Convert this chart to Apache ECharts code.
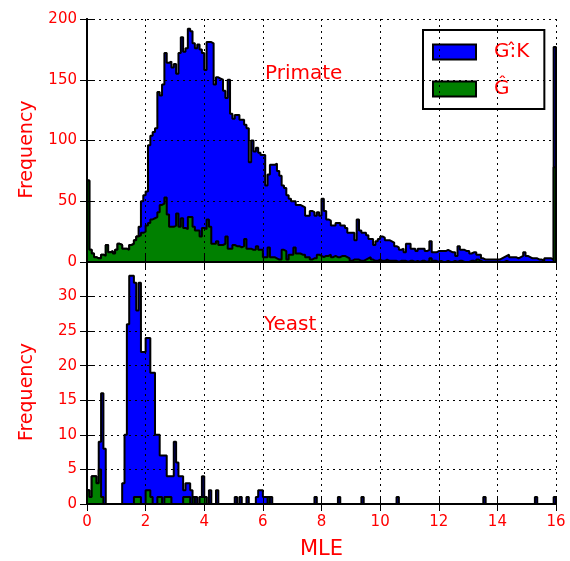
<!DOCTYPE html>
<html>
<head>
<meta charset="utf-8">
<script src="https://cdn.jsdelivr.net/npm/echarts@6/dist/echarts.min.js"></script>
<style>
html,body{margin:0;padding:0;background:#fff;}
#chart{width:570px;height:561px;}
</style>
</head>
<body>
<div id="chart"></div>
<script>
// Histogram bins: 200 bins over MLE range [0, 16]
const binCount = 200;
const xMin = 0, xMax = 16;
const xTicks = [0, 2, 4, 6, 8, 10, 12, 14, 16];

// Primate panel
const primateGK = [
  67,10,7,4,3,3,6,5,14,8,9,7,10,15,14,11,11,10,14,15,
  18,21,29,50,55,58,96,104,107,110,140,137,146,172,164,165,160,163,155,172,
  185,173,176,192,190,180,176,179,175,172,158,181,181,180,146,152,151,150,141,135,
  150,122,118,121,121,117,117,113,110,82,100,91,94,90,88,88,63,72,80,80,
  81,75,71,63,61,55,52,50,50,47,47,46,45,38,38,42,41,38,41,38,
  52,42,35,34,30,30,32,32,30,30,28,24,24,24,18,35,26,24,24,22,
  19,19,14,17,19,21,20,18,18,17,16,13,12,10,11,8,15,15,11,11,
  9,11,11,11,9,10,17,8,8,9,9,9,9,10,9,8,8,5,13,10,
  10,9,9,7,8,8,6,6,3,2,2,2,2,2,2,2,3,4,5,6,
  4,4,4,3,4,5,8,5,4,3,3,3,2,2,1,3,3,3,2,177
];
const primateG = [
  67,10,7,4,3,3,6,5,14,8,9,7,10,15,14,11,11,10,14,15,
  18,21,22,24,25,30,32,35,36,37,41,47,48,53,39,29,29,30,40,29,
  36,28,27,37,37,29,26,26,21,28,27,35,29,15,15,17,14,14,15,21,
  11,11,14,13,13,12,13,19,11,11,10,10,13,10,10,4,4,12,4,4,
  3,2,2,10,9,2,6,6,12,7,7,6,6,4,4,2,3,3,6,5,
  4,5,5,6,4,5,4,4,5,5,4,3,1,2,2,2,1,1,2,3,
  4,2,1,1,2,1,1,2,1,1,1,1,0,1,1,1,0,1,1,0,
  1,0,1,1,0,1,3,1,1,0,1,0,0,1,0,0,1,0,1,1,
  0,0,0,1,1,0,2,1,0,0,0,0,0,0,0,0,0,0,1,0,
  0,0,0,0,0,0,0,0,0,0,0,0,0,0,0,0,0,0,0,78
];

// Yeast panel
const yeastGK = [
  2,1,4,4,3,9,16,8,0,0,0,0,0,0,0,3,10,26,33,33,
  32,28,32,22,22,24,24,19,19,10,10,7,7,7,4,4,4,9,6,4,
  4,2,3,3,2,1,1,0,1,4,1,0,2,0,0,2,0,0,0,0,
  0,0,0,1,0,1,0,0,1,0,0,0,1,2,2,1,1,1,1,0,
  0,0,0,0,0,0,0,0,0,0,0,0,0,0,0,0,0,1,0,0,
  0,0,0,0,0,0,0,1,0,0,0,0,0,0,0,0,0,1,0,0,
  0,0,0,0,0,0,0,0,0,0,0,0,1,0,0,0,0,0,0,0,
  0,0,0,0,0,0,0,0,0,0,0,0,0,0,0,0,0,0,0,0,
  0,0,0,0,0,0,0,0,0,1,0,0,0,0,0,0,0,0,0,0,
  0,0,0,0,0,0,0,0,0,0,0,1,0,0,0,0,0,0,0,1
];
const yeastG = [
  2,1,4,4,3,5,1,0,0,0,0,0,0,0,0,0,0,0,0,0,
  1,1,1,0,0,2,2,1,0,0,1,1,0,1,1,1,0,0,0,0,
  0,1,1,1,0,1,0,0,1,1,1,0,0,0,0,0,0,0,0,0,
  0,0,0,0,0,0,0,0,0,0,0,0,0,0,0,0,0,1,0,0,
  0,0,0,0,0,0,0,0,0,0,0,0,0,0,0,0,0,0,0,0,
  0,0,0,0,0,0,0,0,0,0,0,0,0,0,0,0,0,0,0,0,
  0,0,0,0,0,0,0,0,0,0,0,0,0,0,0,0,0,0,0,0,
  0,0,0,0,0,0,0,0,0,0,0,0,0,0,0,0,0,0,0,0,
  0,0,0,0,0,0,0,0,0,0,0,0,0,0,0,0,0,0,0,0,
  0,0,0,0,0,0,0,0,0,0,0,0,0,0,0,0,0,0,0,0
];

const seriesNames = ['G:\u0302K', '\u011C'];
const panelTitles = ['Primate', 'Yeast'];
const primateYTicks = [0, 50, 100, 150, 200];
const yeastYTicks = [0, 5, 10, 15, 20, 25, 30];

const binW = (xMax - xMin) / binCount;
function stepData(vals) {
  const pts = [[xMin, 0]];
  for (let i = 0; i < vals.length; i++) pts.push([xMin + i * binW, vals[i]]);
  pts.push([xMax, vals[vals.length - 1]]);
  pts.push([xMax, 0]);
  return pts;
}

const FONT = 'DejaVu Sans';
const RED = '#ff0000';
const BLUE = '#0000ff';
const GREEN = '#008000';

function xAxisDef(grid, pos, labels, split) {
  return {
    type: 'value', gridIndex: grid, position: pos, min: xMin, max: xMax, interval: 2, z: 5,
    axisLine: {show: true, lineStyle: {color: '#000', width: 2}},
    axisTick: {show: true, inside: true, length: 7, lineStyle: {color: '#000', width: 1}},
    axisLabel: {show: labels, color: RED, fontSize: 15, fontFamily: FONT, margin: 11},
    splitLine: {show: split, lineStyle: {color: '#000', width: 1, type: [2, 4]}}
  };
}
function yAxisDef(grid, pos, max, interval, labels, split, ticks, name) {
  return {
    type: 'value', gridIndex: grid, position: pos, min: 0, max: max, interval: interval, z: 5,
    name: name, nameLocation: 'middle', nameGap: 50,
    nameTextStyle: {color: RED, fontSize: 19, fontFamily: FONT, padding: [0, 18, 0, 0]},
    axisLine: {show: true, lineStyle: {color: '#000', width: 2}},
    axisTick: {show: true, inside: true, length: 7, lineStyle: {color: '#000', width: 1}},
    axisLabel: {show: labels, color: RED, fontSize: 15, fontFamily: FONT, margin: 10,
      formatter: function (v) { return ticks.indexOf(v) >= 0 ? String(v) : ''; }},
    splitLine: {show: split, lineStyle: {color: '#000', width: 1, type: [2, 4]}}
  };
}
function histSeries(name, vals, color, xi, yi, z) {
  return {
    name: name, type: 'line', step: 'end', xAxisIndex: xi, yAxisIndex: yi,
    data: stepData(vals), symbol: 'none', z: z, color: color,
    lineStyle: {color: '#000', width: 2},
    areaStyle: {color: color, opacity: 1},
    itemStyle: {color: color}
  };
}

const chart = echarts.init(document.getElementById('chart'), null, {renderer: 'canvas'});
chart.setOption({
  animation: false,
  backgroundColor: '#fff',
  textStyle: {fontFamily: FONT},
  title: [
    {text: panelTitles[0], left: 260, top: 59, textStyle: {color: RED, fontSize: 20, fontWeight: 'normal', fontFamily: FONT}},
    {text: panelTitles[1], left: 259, top: 310, textStyle: {color: RED, fontSize: 20, fontWeight: 'normal', fontFamily: FONT}}
  ],
  grid: [
    {left: 87, top: 19, width: 469, height: 243, containLabel: false},
    {left: 87, top: 262, width: 469, height: 242, containLabel: false}
  ],
  legend: {
    orient: 'vertical', left: 423, top: 30,
    padding: [12, 15, 10, 9], itemGap: 17, itemWidth: 43, itemHeight: 15,
    backgroundColor: '#fff', borderColor: '#000', borderWidth: 2, borderRadius: 0,
    textStyle: {color: RED, fontSize: 20, fontFamily: FONT, padding: [0, 0, 0, 13], lineHeight: 20},
    data: [
      {name: seriesNames[0], icon: 'rect', itemStyle: {color: BLUE, borderColor: '#000', borderWidth: 2}},
      {name: seriesNames[1], icon: 'rect', itemStyle: {color: GREEN, borderColor: '#000', borderWidth: 2}}
    ]
  },
  xAxis: [
    xAxisDef(0, 'bottom', false, true),
    xAxisDef(0, 'top', false, false),
    Object.assign(xAxisDef(1, 'bottom', true, true), {
      name: 'MLE', nameLocation: 'middle', nameGap: 35,
      nameTextStyle: {color: RED, fontSize: 21, fontFamily: FONT}
    }),
    xAxisDef(1, 'top', false, false)
  ],
  yAxis: [
    yAxisDef(0, 'left', 200, 50, true, true, primateYTicks, 'Frequency'),
    yAxisDef(0, 'right', 200, 50, false, false, primateYTicks, ''),
    yAxisDef(1, 'left', 35, 5, true, true, yeastYTicks, 'Frequency'),
    yAxisDef(1, 'right', 35, 5, false, false, yeastYTicks, '')
  ],
  series: [
    histSeries(seriesNames[0], primateGK, BLUE, 0, 0, 2),
    histSeries(seriesNames[1], primateG, GREEN, 0, 0, 3),
    histSeries(seriesNames[0], yeastGK, BLUE, 2, 2, 2),
    histSeries(seriesNames[1], yeastG, GREEN, 2, 2, 3)
  ]
});
</script>
</body>
</html>
